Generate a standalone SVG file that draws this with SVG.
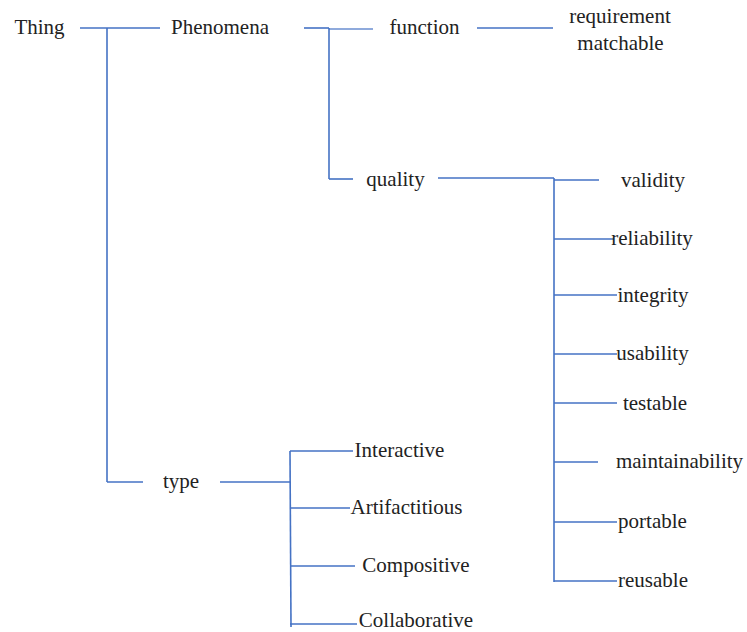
<svg xmlns="http://www.w3.org/2000/svg" width="747" height="632" viewBox="0 0 747 632">
<rect width="747" height="632" fill="#fff"/>
<g id="connectors" stroke="#4472C4" stroke-width="1.6" fill="none">
<line x1="80" y1="28" x2="160" y2="28"/>
<line x1="107" y1="28" x2="107" y2="482"/>
<line x1="107" y1="482" x2="143" y2="482"/>
<line x1="304" y1="28" x2="329" y2="28"/>
<line x1="329" y1="29" x2="373" y2="29" stroke="#8FAADC" stroke-width="2.2"/>
<line x1="329" y1="28" x2="329" y2="179"/>
<line x1="329" y1="179" x2="353" y2="179"/>
<line x1="477" y1="28" x2="553" y2="28"/>
<line x1="438" y1="178" x2="554" y2="178"/>
<line x1="554" y1="178" x2="554" y2="582"/>
<line x1="554" y1="180" x2="599" y2="180"/>
<line x1="554" y1="239" x2="614" y2="239"/>
<line x1="554" y1="295" x2="617" y2="295"/>
<line x1="554" y1="354" x2="617" y2="354"/>
<line x1="554" y1="403" x2="617" y2="403"/>
<line x1="554" y1="462" x2="598" y2="462"/>
<line x1="554" y1="522" x2="617" y2="522"/>
<line x1="554" y1="581" x2="617" y2="581"/>
<line x1="220" y1="482" x2="290" y2="482"/>
<line x1="290" y1="451" x2="291" y2="627"/>
<line x1="290" y1="451" x2="353" y2="451"/>
<line x1="290" y1="508" x2="350" y2="508"/>
<line x1="290" y1="566" x2="355" y2="566"/>
<line x1="290" y1="624" x2="357" y2="624"/>
</g>
<g font-family="Times New Roman" font-size="21" fill="#222" text-anchor="middle">
<g id="thing"><text x="39.5" y="34">Thing</text></g>
<g id="phenomena"><text x="220" y="34">Phenomena</text></g>
<g id="function"><text x="424.5" y="34">function</text></g>
<g id="requirement"><text x="620" y="23">requirement</text><text x="620.5" y="50">matchable</text></g>
<g id="quality"><text x="395.5" y="186">quality</text></g>
<g id="validity"><text x="653" y="187">validity</text></g>
<g id="reliability"><text x="652" y="245">reliability</text></g>
<g id="integrity"><text x="653" y="302">integrity</text></g>
<g id="usability"><text x="652.5" y="360">usability</text></g>
<g id="testable"><text x="655" y="410">testable</text></g>
<g id="maintainability"><text x="679.5" y="468">maintainability</text></g>
<g id="portable"><text x="652.5" y="528">portable</text></g>
<g id="reusable"><text x="653" y="587">reusable</text></g>
<g id="type"><text x="181" y="488">type</text></g>
<g id="interactive"><text x="399.5" y="457">Interactive</text></g>
<g id="artifactitious"><text x="406.5" y="514">Artifactitious</text></g>
<g id="compositive"><text x="416" y="572">Compositive</text></g>
<g id="collaborative"><text x="416" y="627">Collaborative</text></g>
</g>
</svg>
